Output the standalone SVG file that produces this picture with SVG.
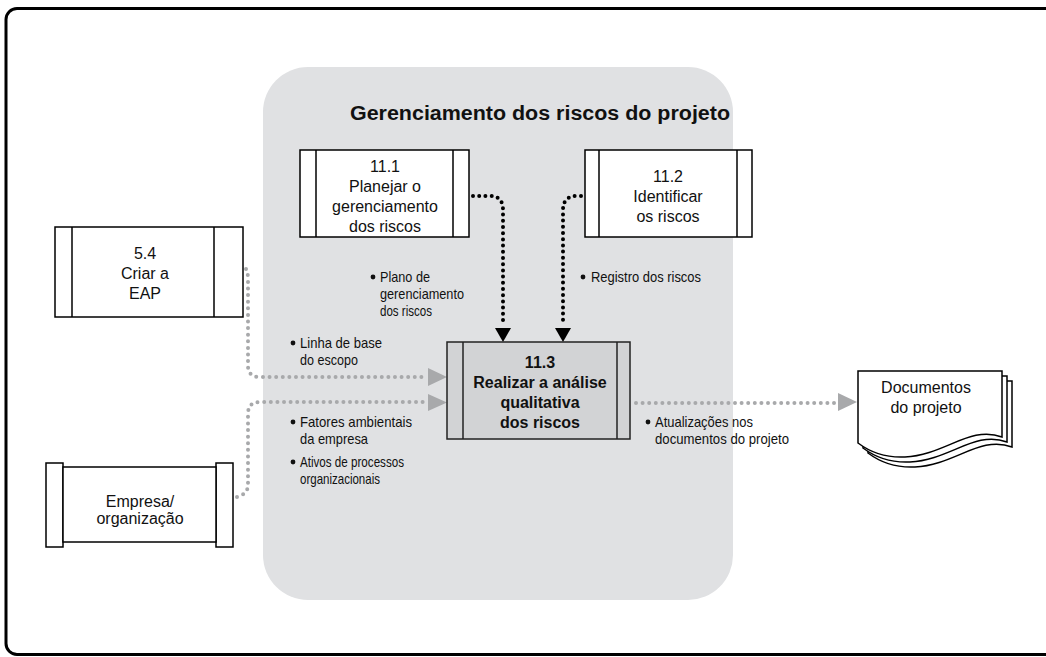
<svg xmlns="http://www.w3.org/2000/svg" width="1046" height="657" viewBox="0 0 1046 657">
<style>
.box{fill:#fff;stroke:#000;stroke-width:1.5}
.hbox{fill:#d2d3d5;stroke:#222;stroke-width:1.5}
.t{font-family:"Liberation Sans",Arial,sans-serif;font-size:16px;fill:#111;text-anchor:middle}
.tb{font-family:"Liberation Sans",Arial,sans-serif;font-size:16px;font-weight:bold;fill:#111;text-anchor:middle}
.lb{font-family:"Liberation Sans",Arial,sans-serif;font-size:14.5px;fill:#111}
.gray{fill:none;stroke:#a8a9ab;stroke-width:4;stroke-dasharray:0 6.6;stroke-linecap:round}
.blk{fill:none;stroke:#000;stroke-width:4;stroke-dasharray:0 6.2;stroke-linecap:round}
.page{fill:#fff;stroke:#000;stroke-width:1.5}
</style>
<defs>
<path id="pg" d="M858,371 H1002 V437 C970,425 945,455 905,457 C885,458 870,452 858,443 Z"/>
</defs>
<rect x="6" y="8.5" width="1070" height="646" rx="11" fill="#fff" stroke="#000" stroke-width="3"/>
<g id="panel">
<rect x="263" y="67" width="470" height="533" rx="45" fill="#e0e1e3"/>
<text x="540" y="120" font-family="Liberation Sans,Arial,sans-serif" font-size="20" font-weight="bold" fill="#111" text-anchor="middle" textLength="380" lengthAdjust="spacingAndGlyphs">Gerenciamento dos riscos do projeto</text>
</g>
<g id="connectors">
<path class="blk" d="M473,196 L490,196 Q503,196 503,210 L503,326"/>
<polygon points="495,328 511,328 503,342" fill="#000"/>
<path class="blk" d="M581,196 L577,196 Q563,196 563,210 L563,326"/>
<polygon points="555,328 571,328 563,342" fill="#000"/>
<path class="gray" d="M246,269 Q248,272 248,280 L248,366 Q248,377 260,377 L426,377"/>
<polygon points="428,368 447,377 428,386" fill="#a8a9ab"/>
<path class="gray" d="M237,497 Q248,494 248,485 L248,414 Q248,402 260,402 L426,402"/>
<polygon points="428,394 447,402.5 428,411" fill="#a8a9ab"/>
<path class="gray" d="M636,403 L836,403"/>
<polygon points="838,393 857,402 838,411" fill="#a8a9ab"/>
</g>
<g id="n11_1">
<rect class="box" x="300" y="150" width="169" height="87"/>
<line x1="316" y1="150" x2="316" y2="237" stroke="#000" stroke-width="1.5"/>
<line x1="453" y1="150" x2="453" y2="237" stroke="#000" stroke-width="1.5"/>
<text class="t" x="385" y="172">11.1</text>
<text class="t" x="385" y="192">Planejar o</text>
<text class="t" x="385" y="212">gerenciamento</text>
<text class="t" x="385" y="232">dos riscos</text>
</g>
<g id="n11_2">
<rect class="box" x="585" y="150" width="167" height="87"/>
<line x1="599" y1="150" x2="599" y2="237" stroke="#000" stroke-width="1.5"/>
<line x1="737" y1="150" x2="737" y2="237" stroke="#000" stroke-width="1.5"/>
<text class="t" x="668" y="182">11.2</text>
<text class="t" x="668" y="202">Identificar</text>
<text class="t" x="668" y="222">os riscos</text>
</g>
<g id="n5_4">
<rect class="box" x="55" y="227" width="188" height="90"/>
<line x1="72" y1="227" x2="72" y2="317" stroke="#000" stroke-width="1.5"/>
<line x1="214" y1="227" x2="214" y2="317" stroke="#000" stroke-width="1.5"/>
<text class="t" x="145" y="259">5.4</text>
<text class="t" x="145" y="279">Criar a</text>
<text class="t" x="145" y="299">EAP</text>
</g>
<g id="empresa">
<rect class="box" x="46" y="463" width="17" height="84"/>
<rect class="box" x="216" y="463" width="17" height="84"/>
<rect class="box" x="63" y="467" width="153" height="75"/>
<text class="t" x="140" y="507">Empresa/</text>
<text class="t" x="140" y="524">organização</text>
</g>
<g id="n11_3">
<rect class="hbox" x="447" y="342" width="183" height="97"/>
<line x1="463" y1="342" x2="463" y2="439" stroke="#222" stroke-width="1.5"/>
<line x1="617" y1="342" x2="617" y2="439" stroke="#222" stroke-width="1.5"/>
<text class="tb" x="540" y="368">11.3</text>
<text class="tb" x="540" y="388">Realizar a análise</text>
<text class="tb" x="540" y="408">qualitativa</text>
<text class="tb" x="540" y="428">dos riscos</text>
</g>
<g id="docs">
<use href="#pg" class="page" transform="translate(10,10)"/>
<use href="#pg" class="page" transform="translate(5,5)"/>
<use href="#pg" class="page"/>
<text class="t" x="926" y="393">Documentos</text>
<text class="t" x="926" y="413">do projeto</text>
</g>
<g id="labels">
<circle cx="373" cy="277" r="2.4" fill="#111"/>
<text class="lb" x="380" y="282" textLength="50" lengthAdjust="spacingAndGlyphs">Plano de</text>
<text class="lb" x="380" y="299" textLength="84" lengthAdjust="spacingAndGlyphs">gerenciamento</text>
<text class="lb" x="380" y="316" textLength="52" lengthAdjust="spacingAndGlyphs">dos riscos</text>
<circle cx="583" cy="277" r="2.4" fill="#111"/>
<text class="lb" x="591" y="282" textLength="110" lengthAdjust="spacingAndGlyphs">Registro dos riscos</text>
<circle cx="293" cy="343" r="2.4" fill="#111"/>
<text class="lb" x="300" y="348" textLength="82" lengthAdjust="spacingAndGlyphs">Linha de base</text>
<text class="lb" x="300" y="365" textLength="58" lengthAdjust="spacingAndGlyphs">do escopo</text>
<circle cx="293" cy="422" r="2.4" fill="#111"/>
<text class="lb" x="300" y="427" textLength="112" lengthAdjust="spacingAndGlyphs">Fatores ambientais</text>
<text class="lb" x="300" y="444" textLength="68" lengthAdjust="spacingAndGlyphs">da empresa</text>
<circle cx="293" cy="462" r="2.4" fill="#111"/>
<text class="lb" x="300" y="467" textLength="104" lengthAdjust="spacingAndGlyphs">Ativos de processos</text>
<text class="lb" x="300" y="484" textLength="80" lengthAdjust="spacingAndGlyphs">organizacionais</text>
<circle cx="648" cy="422" r="2.4" fill="#111"/>
<text class="lb" x="655" y="427" textLength="98" lengthAdjust="spacingAndGlyphs">Atualizações nos</text>
<text class="lb" x="655" y="444" textLength="134" lengthAdjust="spacingAndGlyphs">documentos do projeto</text>
</g>
</svg>
